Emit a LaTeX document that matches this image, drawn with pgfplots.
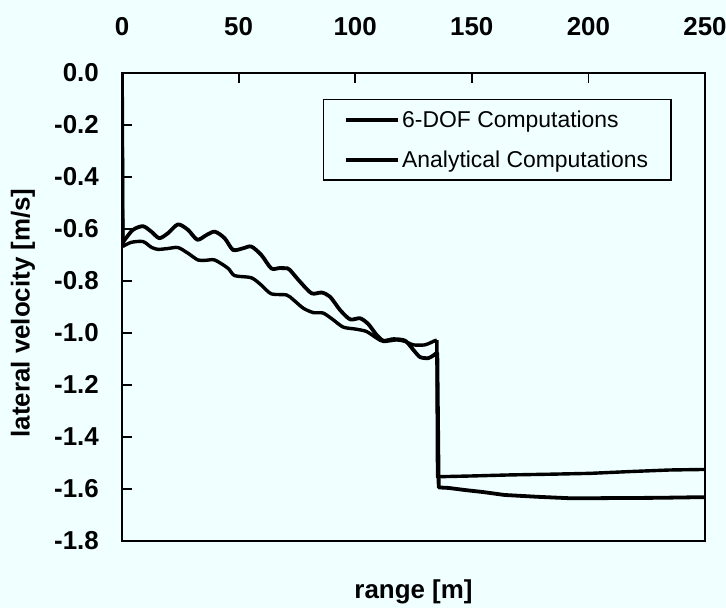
\documentclass[border=0pt]{standalone}
\usepackage{fontspec}
\setmainfont{Liberation Sans}
\usepackage{pgfplots}
\pgfplotsset{compat=1.18}
\definecolor{bgc}{RGB}{240,255,255}
\begin{document}
\begin{tikzpicture}
\fill[bgc] (0,0) rectangle (726bp,-608bp);
\begin{axis}[
  at={(122bp,-72.7bp)}, anchor=north west,
  scale only axis, width=583bp, height=468.3bp,
  xmin=0, xmax=250, ymin=-1.8, ymax=0,
  xtick={0,50,100,150,200,250},
  xticklabels={0,50,100,150,200,250},
  ytick={0,-0.2,-0.4,-0.6,-0.8,-1.0,-1.2,-1.4,-1.6,-1.8},
  yticklabels={0.0,-0.2,-0.4,-0.6,-0.8,-1.0,-1.2,-1.4,-1.6,-1.8},
  xtick pos=right, xticklabel pos=right,
  ytick pos=left,
  tick align=inside,
  major tick length=10bp,
  tick style={line width=1.8bp, black},
  axis line style={line width=2.2bp},
  tick label style={font=\fontsize{26}{30}\selectfont\bfseries},
  xticklabel style={anchor=base, yshift=37.7bp},
  yticklabel style={anchor=east, inner sep=0pt, xshift=-23bp},
  xlabel={range [m]},
  xlabel style={at={(axis description cs:0.5,0)}, anchor=center, yshift=-51bp, font=\fontsize{26}{30}\selectfont\bfseries},
  ylabel={lateral velocity [m/s]},
  ylabel style={at={(axis description cs:-0.1698,0.487)}, anchor=center, font=\fontsize{26}{30}\selectfont\bfseries},
  legend style={at={(0.943,0.944)}, anchor=north east, draw=black, line width=1.5bp, fill=none,
    font=\fontsize{23}{27}\selectfont, inner xsep=21bp, inner ysep=9bp, row sep=18bp,
    nodes={inner sep=2bp}},
  legend cell align=left,
  legend image code/.code={\draw[#1] (0bp,0bp) -- (52bp,0bp);},
]
% 6-DOF computations
\addplot[black, line width=3.8bp, line join=round, smooth, tension=0.45] coordinates {
(0.3,-0.655) (1.1,-0.643) (4.7,-0.604) (9.0,-0.590) (12.6,-0.611) (16.0,-0.636)
(19.7,-0.617) (24.0,-0.583) (28.3,-0.604) (32.3,-0.642) (36.2,-0.624) (39.8,-0.611)
(44.0,-0.636) (47.6,-0.681) (51.9,-0.675) (55.4,-0.668) (59.7,-0.700) (64.0,-0.752)
(67.5,-0.751) (71.0,-0.752) (72.0,-0.758) (76.3,-0.803) (81.3,-0.848) (85.6,-0.845)
(89.2,-0.861) (93.5,-0.912) (97.8,-0.948) (102.1,-0.944) (105.6,-0.966) (109.2,-1.008)
(112.1,-1.030) (116.4,-1.024) (121.4,-1.030) (124.9,-1.065) (127.8,-1.093) (131.4,-1.097)
(133.8,-1.085) (135.2,-1.075)
};
\addlegendentry{6-DOF Computations}
\addplot[black, line width=3.8bp, line join=round, forget plot] coordinates {
(0,0) (0.3,-0.655)
};
\addplot[black, line width=3.8bp, line join=round, forget plot] coordinates {
(135.2,-1.075) (135.8,-1.594) (140,-1.596) (147,-1.604) (155,-1.612)
(164,-1.623) (178,-1.630) (193,-1.636) (210,-1.635) (230,-1.634) (245,-1.632) (250,-1.632)
};
% Analytical computations
\addplot[black, line width=3.4bp, line join=round, smooth, tension=0.45] coordinates {
(0.3,-0.668) (4.0,-0.652) (9.0,-0.649) (12.6,-0.671) (15.4,-0.679) (19.5,-0.676)
(24.0,-0.672) (28.3,-0.694) (32.6,-0.720) (36,-0.721) (39.8,-0.720) (45.5,-0.752)
(48.3,-0.780) (55.4,-0.788) (59.7,-0.816) (64.0,-0.850) (70.5,-0.854) (73.5,-0.873)
(77.7,-0.905) (82.0,-0.922) (86.3,-0.924) (90.6,-0.950) (94.9,-0.978) (100.6,-0.986)
(104.9,-0.995) (109.2,-1.020) (112.1,-1.033) (117.8,-1.027) (121.4,-1.033) (124.9,-1.046)
(129.9,-1.046) (134.2,-1.030) (135,-1.028)
};
\addlegendentry{Analytical Computations}
\addplot[black, line width=3.4bp, line join=round, forget plot] coordinates {
(0,0) (0.3,-0.668)
};
\addplot[black, line width=3.4bp, line join=round, forget plot] coordinates {
(135,-1.028) (135.3,-1.553) (150,-1.550) (166.4,-1.546)
(185,-1.543) (200.7,-1.540) (218,-1.533) (235,-1.527) (250,-1.525)
};
\end{axis}
\pgfresetboundingbox
\useasboundingbox (0,0) rectangle (726bp,-608bp);
\end{tikzpicture}
\end{document}
